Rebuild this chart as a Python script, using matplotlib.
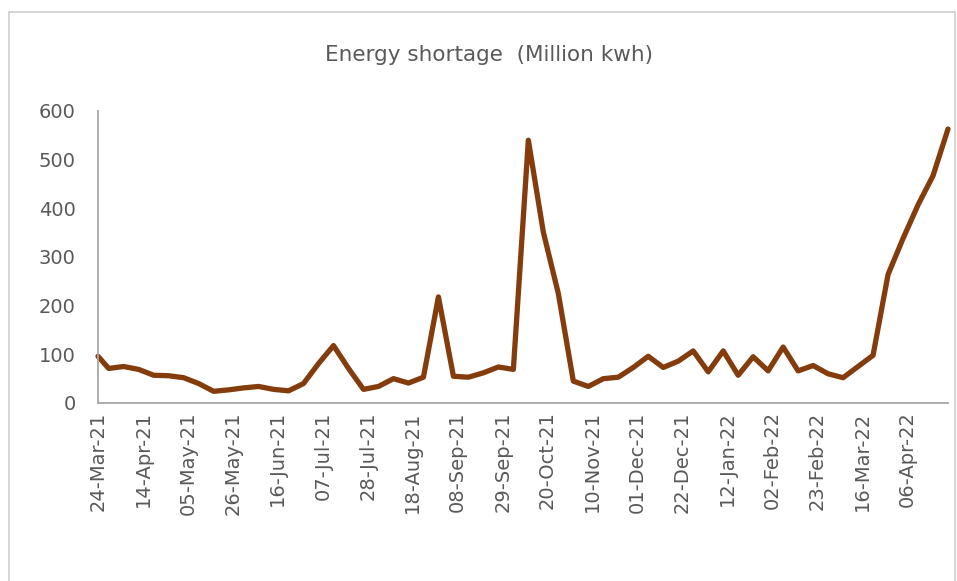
import pandas as pd
import numpy as np
import matplotlib
matplotlib.use('Agg')
import matplotlib.pyplot as plt
import matplotlib.dates as mdates
from matplotlib.patches import Rectangle

# weekly readings, first one on 24-Mar-21 then every Monday from 29-Mar-21
first_date = pd.Timestamp('2021-03-24')
weekly_dates = pd.date_range('2021-03-29', periods=57, freq='7D')
dates = [first_date] + list(weekly_dates)

shortage = [96, 71, 75, 69, 57, 56, 52, 40, 24, 27,
            31, 34, 28, 25, 40, 81, 118, 71, 28, 34,
            50, 41, 53, 218, 55, 53, 62, 74, 69, 540,
            351, 225, 45, 34, 50, 53, 73, 96, 73, 86,
            107, 64, 107, 57, 95, 66, 115, 66, 77, 60,
            52, 75, 98, 264, 338, 407, 467, 563]

# tick labels every three weeks
tick_dates = pd.date_range('2021-03-24', '2022-04-06', freq='21D')

text_grey = '#595959'
axis_grey = '#a6a6a6'

fig = plt.figure(figsize=(9.57, 5.81), dpi=100)
ax = fig.add_axes([98/957, 1 - 403/581, 850/957, 292/581])

ax.plot(dates, shortage, color='#843c0c', linewidth=3.8, solid_joinstyle='round', solid_capstyle='round', clip_on=False)

ax.set_ylim(0, 600)
ax.set_yticks([0, 100, 200, 300, 400, 500, 600])
ax.set_xlim(dates[0], dates[-1])
ax.set_xticks(tick_dates)
ax.xaxis.set_major_formatter(mdates.DateFormatter('%d-%b-%y'))

for lab in ax.get_xticklabels():
    lab.set_rotation(90)

ax.tick_params(axis='y', length=0, pad=16, labelsize=14, labelcolor=text_grey)
ax.tick_params(axis='x', length=0, pad=6, labelsize=14, labelcolor=text_grey)

ax.spines['top'].set_visible(False)
ax.spines['right'].set_visible(False)
ax.spines['left'].set_color(axis_grey)
ax.spines['bottom'].set_color(axis_grey)
ax.spines['left'].set_linewidth(1.3)
ax.spines['bottom'].set_linewidth(1.3)

fig.text(489/957, 1 - 55/581, 'Energy shortage  (Million kwh)', ha='center', va='center',
         fontsize=15.5, color=text_grey)

# chart frame
fig.patches.append(Rectangle((9/957, -0.05), 946/957, 1.05 - 12/581, transform=fig.transFigure,
                             fill=False, edgecolor='#d0d0d0', linewidth=1.2))

plt.savefig('out.png', dpi=100)
plt.close('all')
